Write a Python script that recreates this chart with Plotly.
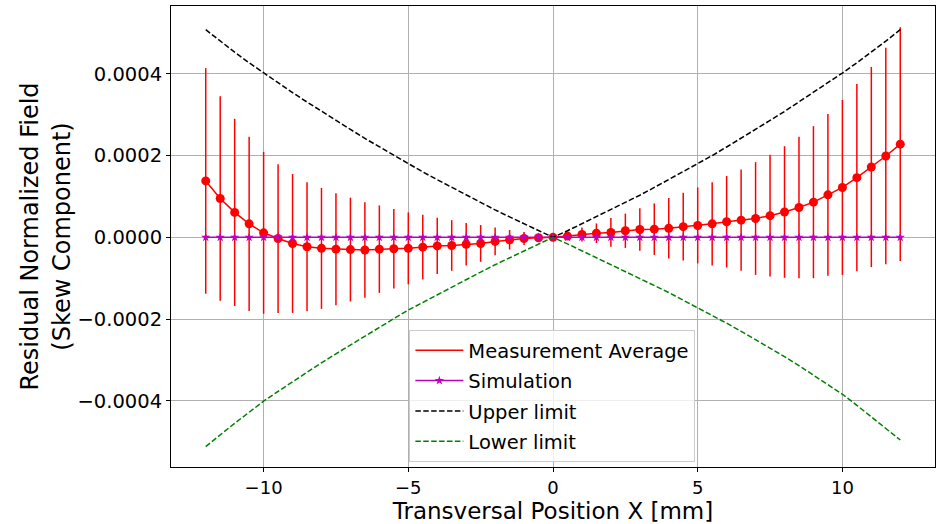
import plotly.graph_objects as go

x_pos = [-12.0, -11.5, -11.0, -10.5, -10.0, -9.5, -9.0, -8.5, -8.0, -7.5, -7.0, -6.5, -6.0,
         -5.5, -5.0, -4.5, -4.0, -3.5, -3.0, -2.5, -2.0, -1.5, -1.0, -0.5, 0.0,
         0.5, 1.0, 1.5, 2.0, 2.5, 3.0, 3.5, 4.0, 4.5, 5.0, 5.5, 6.0,
         6.5, 7.0, 7.5, 8.0, 8.5, 9.0, 9.5, 10.0, 10.5, 11.0, 11.5, 12.0]

# values in units of 1e-4
meas_avg = [1.38, 0.95, 0.61, 0.33, 0.11, -0.03, -0.15, -0.23, -0.27, -0.29, -0.30, -0.31, -0.29,
            -0.28, -0.27, -0.24, -0.21, -0.20, -0.17, -0.15, -0.10, -0.06, -0.03, -0.01, 0.0,
            0.03, 0.07, 0.10, 0.12, 0.16, 0.19, 0.20, 0.22, 0.26, 0.29, 0.33, 0.38,
            0.42, 0.46, 0.53, 0.62, 0.73, 0.86, 1.04, 1.22, 1.46, 1.72, 1.99, 2.28]

meas_err = [2.76, 2.50, 2.29, 2.13, 1.98, 1.82, 1.70, 1.58, 1.48, 1.37, 1.27, 1.17, 1.07,
            0.97, 0.88, 0.79, 0.69, 0.62, 0.52, 0.45, 0.34, 0.24, 0.16, 0.08, 0.0,
            0.07, 0.17, 0.24, 0.35, 0.42, 0.52, 0.63, 0.74, 0.83, 0.93, 1.02, 1.12,
            1.24, 1.38, 1.49, 1.61, 1.73, 1.86, 1.98, 2.14, 2.29, 2.45, 2.65, 2.86]

simulation = [0.0] * 49

upper_limit = [5.08, 4.80, 4.53, 4.27, 4.02, 3.78, 3.54, 3.31, 3.08, 2.86, 2.64, 2.42, 2.21,
               2.00, 1.80, 1.60, 1.41, 1.22, 1.03, 0.85, 0.67, 0.50, 0.33, 0.16, 0.0,
               0.16, 0.33, 0.50, 0.67, 0.85, 1.03, 1.22, 1.41, 1.60, 1.80, 2.00, 2.21,
               2.42, 2.64, 2.86, 3.08, 3.31, 3.54, 3.78, 4.02, 4.27, 4.53, 4.80, 5.08]

lower_limit = [-5.12, -4.83, -4.55, -4.28, -4.01, -3.77, -3.53, -3.30, -3.07, -2.85, -2.63, -2.41, -2.20,
               -1.99, -1.78, -1.59, -1.40, -1.21, -1.02, -0.85, -0.67, -0.50, -0.33, -0.16, 0.0,
               -0.16, -0.33, -0.49, -0.66, -0.83, -1.00, -1.17, -1.35, -1.54, -1.72, -1.91, -2.10,
               -2.30, -2.50, -2.71, -2.92, -3.14, -3.37, -3.60, -3.84, -4.11, -4.39, -4.67, -4.96]

x_ticks = [-10, -5, 0, 5, 10]
y_ticks = [-0.0004, -0.0002, 0.0, 0.0002, 0.0004]
y_tick_text = ["\u22120.0004", "\u22120.0002", "0.0000", "0.0002", "0.0004"]

S = 1e-4
RED = "#ff0000"
MAG = "#bf00bf"
GREEN = "#008000"
FONT = "DejaVu Sans"

fig = go.Figure()

fig.add_trace(go.Scatter(
    x=x_pos, y=[v * S for v in meas_avg], mode="lines+markers",
    line=dict(color=RED, width=1.5),
    marker=dict(color=RED, size=9, symbol="circle"),
    error_y=dict(type="data", array=[e * S for e in meas_err], visible=True,
                 color=RED, thickness=1.5, width=0),
    showlegend=False, legendgroup="g1"))

fig.add_trace(go.Scatter(
    x=[None], y=[None], mode="lines", name="Measurement Average",
    line=dict(color=RED, width=1.5), legendgroup="g1"))

fig.add_trace(go.Scatter(
    x=x_pos, y=[v * S for v in simulation], mode="lines+markers", name="Simulation",
    line=dict(color=MAG, width=1.5),
    marker=dict(color=MAG, size=7, symbol="star"), legendgroup="g2"))

fig.add_trace(go.Scatter(
    x=x_pos, y=[v * S for v in upper_limit], mode="lines", name="Upper limit",
    line=dict(color="black", width=1.5, dash="5.5px,2.4px"), legendgroup="g3"))

fig.add_trace(go.Scatter(
    x=x_pos, y=[v * S for v in lower_limit], mode="lines", name="Lower limit",
    line=dict(color=GREEN, width=1.5, dash="5.5px,2.4px"), legendgroup="g4"))

fig.update_layout(
    width=936, height=524,
    margin=dict(l=171, r=1, t=6, b=57),
    paper_bgcolor="white", plot_bgcolor="white",
    font=dict(family=FONT, color="black", size=19),
    legend=dict(x=0.312, y=0.297, xanchor="left", yanchor="top",
                bgcolor="rgba(255,255,255,0.8)", bordercolor="#cccccc", borderwidth=1,
                font=dict(size=19.5, family=FONT), tracegroupgap=2,
                traceorder="grouped", itemwidth=48),
    xaxis=dict(range=[-13.2, 13.2], tickvals=x_ticks, ticks="outside", ticklen=4,
               tickcolor="black", showline=True, linecolor="black", linewidth=1, mirror=True,
               showgrid=True, gridcolor="#b0b0b0", gridwidth=1, zeroline=False,
               tickfont=dict(size=18),
               title=dict(text="Transversal Position X [mm]", font=dict(size=23), standoff=0)),
    yaxis=dict(range=[-0.000562, 0.000566], tickvals=y_ticks, ticktext=y_tick_text,
               ticks="outside", ticklen=4, tickcolor="black",
               showline=True, linecolor="black", linewidth=1, mirror=True,
               showgrid=True, gridcolor="#b0b0b0", gridwidth=1, zeroline=False,
               tickfont=dict(size=19.5),
               title=dict(text="Residual Normalized Field<br>(Skew Component)",
                          font=dict(size=24), standoff=0)),
)

fig.write_html("out.html")
